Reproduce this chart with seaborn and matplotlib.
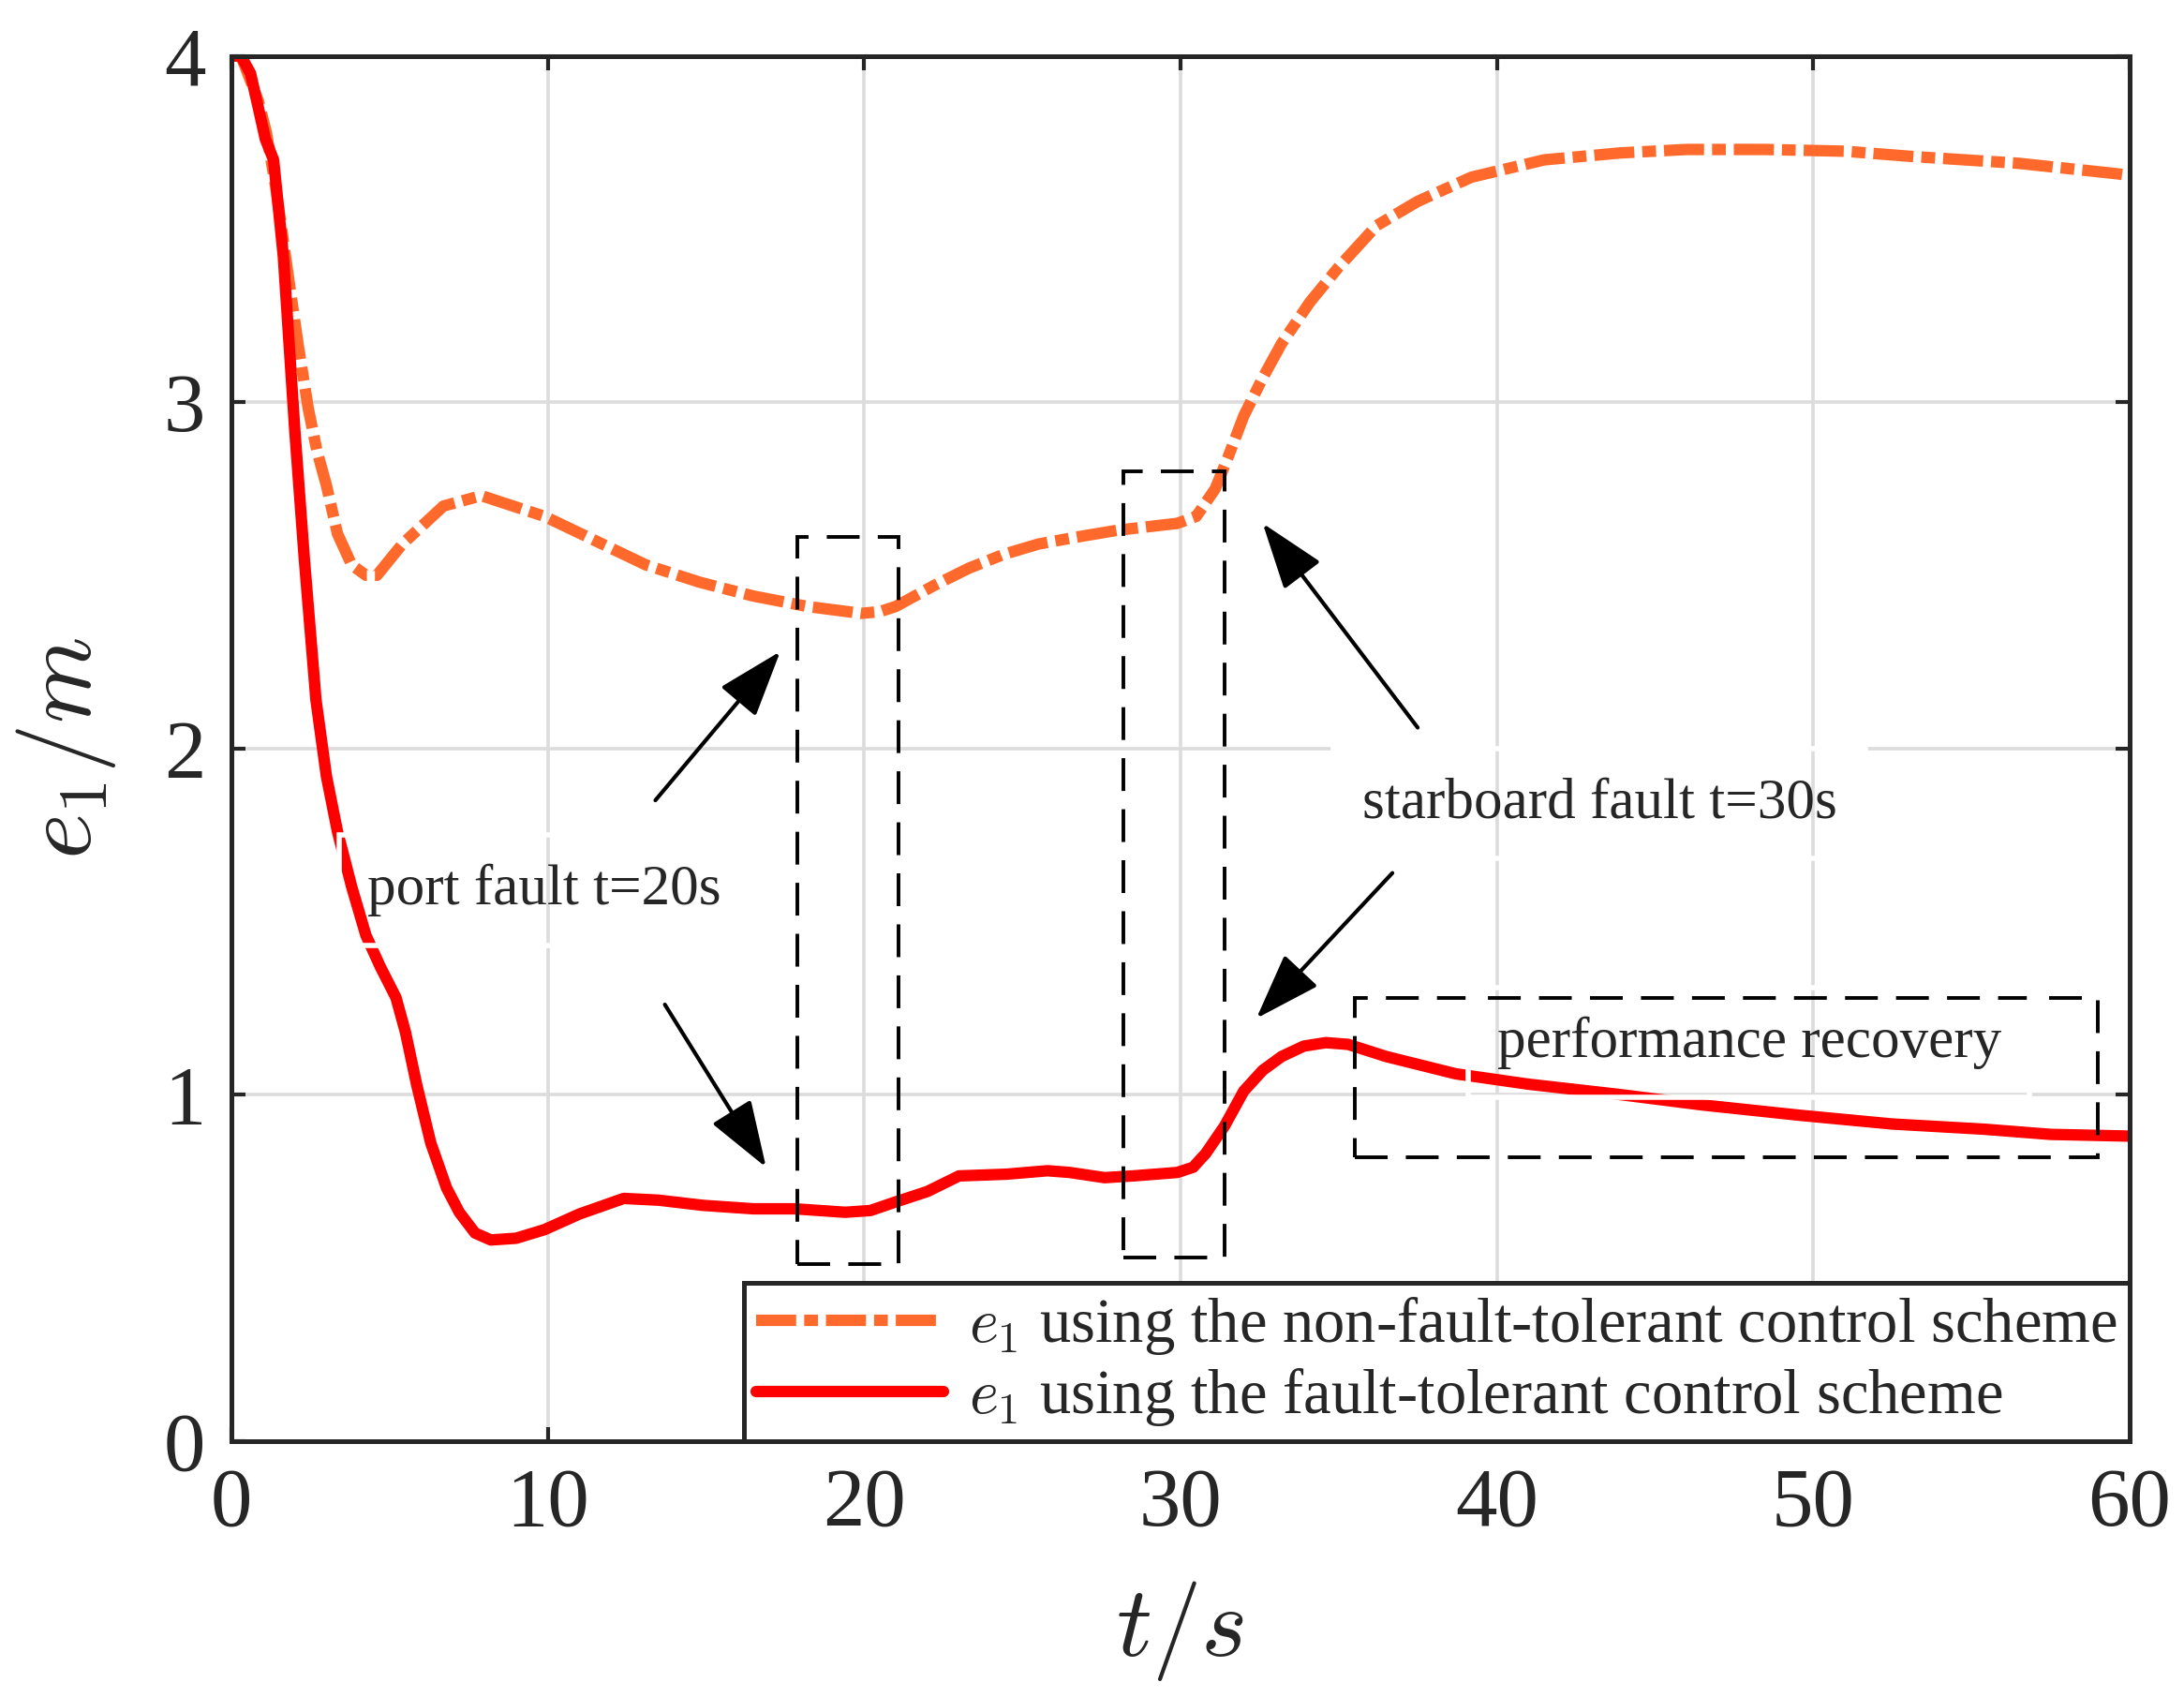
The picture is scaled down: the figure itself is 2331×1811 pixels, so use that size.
import pandas as pd
import seaborn as sns
import matplotlib.pyplot as plt
from matplotlib.patches import Rectangle

# e1 with the non-fault-tolerant scheme
t_nft = [0, 0.3, 0.85, 1.1, 1.4, 1.77, 2.1, 2.43, 2.7, 3.0, 3.35, 3.8, 4.25, 4.6,
         5.4, 6.7, 7.9, 9.9, 11.5, 13.1, 14.8, 16.5, 18.2, 19.9, 20.5, 21.0, 22.2,
         23.3, 24.4, 25.5, 26.7, 28.0, 29.9, 30.5, 31.1, 31.5, 32.0, 32.6, 33.2,
         34.1, 35.0, 36.2, 37.5, 39.2, 41.5, 43.9, 46.0, 48.5, 51.0, 53.1, 56.5,
         59.6, 60]
e_nft = [4.0, 4.0, 3.87, 3.78, 3.62, 3.38, 3.17, 2.98, 2.86, 2.76, 2.62, 2.53, 2.50, 2.50,
         2.59, 2.70, 2.73, 2.67, 2.60, 2.53, 2.48, 2.44, 2.41, 2.39, 2.395, 2.41, 2.47,
         2.52, 2.56, 2.59, 2.61, 2.63, 2.65, 2.67, 2.75, 2.84, 2.96, 3.07, 3.17,
         3.29, 3.39, 3.51, 3.58, 3.65, 3.70, 3.72, 3.73, 3.73, 3.725, 3.71, 3.69,
         3.66, 3.655]

# e1 with the fault-tolerant scheme
t_ft = [0, 0.3, 0.6, 0.85, 1.07, 1.33, 1.64, 2.0, 2.3, 2.67, 3.0, 3.35, 3.8, 4.25,
        4.7, 5.2, 5.5, 5.85, 6.3, 6.8, 7.2, 7.7, 8.2, 9.0, 9.9, 11.0, 12.4, 13.5,
        14.9, 16.5, 17.8, 19.4, 20.2, 21.0, 22.0, 23.0, 24.5, 25.8, 26.5, 27.6,
        28.5, 29.9, 30.4, 30.8, 31.4, 32.0, 32.6, 33.2, 33.9, 34.6, 35.3, 36.5,
        38.7, 41.0, 43.9, 46.5, 49.6, 52.5, 55.4, 57.5, 60]
e_ft = [4.0, 4.0, 3.95, 3.85, 3.76, 3.70, 3.42, 2.92, 2.55, 2.14, 1.92, 1.76, 1.60, 1.46,
        1.37, 1.28, 1.18, 1.03, 0.86, 0.73, 0.66, 0.60, 0.58, 0.585, 0.61, 0.655, 0.70, 0.695,
        0.68, 0.67, 0.67, 0.66, 0.665, 0.69, 0.72, 0.765, 0.77, 0.78, 0.775, 0.76,
        0.765, 0.775, 0.79, 0.83, 0.91, 1.01, 1.07, 1.11, 1.14, 1.15, 1.145, 1.11,
        1.06, 1.03, 1.00, 0.97, 0.94, 0.915, 0.90, 0.885, 0.88]

labels = [r'$e_1$ using the non-fault-tolerant control scheme',
          r'$e_1$ using the fault-tolerant control scheme']

# dashed boxes: (t0, e0, width, height)
boxes = [(17.9, 0.51, 3.2, 2.10), (28.2, 0.53, 3.2, 2.27), (35.5, 0.82, 23.5, 0.46)]
# arrows: (tail, head)
arrows = [((13.4, 1.85), (17.35, 2.28)), ((13.7, 1.26), (16.9, 0.79)),
          ((37.5, 2.06), (32.6, 2.65)), ((36.7, 1.64), (32.4, 1.22))]
notes = [(4.3, 1.59, 'port fault t=20s'), (35.75, 1.84, 'starboard fault t=30s'),
         (40.0, 1.15, 'performance recovery')]

sns.set_theme(style='ticks')
plt.rcParams['font.family'] = ['Liberation Serif', 'DejaVu Serif']
plt.rcParams['mathtext.fontset'] = 'cm'

fig = plt.figure(figsize=(11.655, 9.055), dpi=200)
ax = fig.add_axes([0.106, 0.151, 0.869, 0.816])

sns.lineplot(x=t_nft, y=e_nft, ax=ax, color='#ff6a2c', lw=4.4, label=labels[0])
sns.lineplot(x=t_ft, y=e_ft, ax=ax, color='#ff0000', lw=4.4, label=labels[1])
ax.lines[0].set_dashes((3.5, 0.7, 1.2, 0.7))

for (x0, y0, w, h) in boxes:
    ax.add_patch(Rectangle((x0, y0), w, h, fill=False, ec='black', lw=1.4,
                           ls=(0, (9, 5)), zorder=3))

for tail, head in arrows:
    ax.annotate('', xy=head, xytext=tail,
                arrowprops=dict(arrowstyle='-|>,head_length=1.3,head_width=0.45',
                                color='black', lw=1.5, mutation_scale=17,
                                shrinkA=0, shrinkB=0))

for x, y, s in notes:
    ax.text(x, y, s, fontsize=22, ha='left', va='center', zorder=4,
            bbox=dict(boxstyle='square,pad=0.5', fc='none', ec='white', lw=2))

ax.set_xlim(0, 60)
ax.set_ylim(0, 4)
ax.set_xticks(range(0, 61, 10))
ax.set_yticks(range(0, 5))
ax.grid(True, color='#dcdcdc', lw=1.3)
ax.set_axisbelow(True)
ax.tick_params(direction='in', length=5.5, width=1.5, top=True, right=True,
               labelsize=32, pad=10, colors='#262626')
for sp in ax.spines.values():
    sp.set_visible(True)
    sp.set_color('#262626')
    sp.set_linewidth(1.8)

ax.set_xlabel(r'$t/s$', fontsize=38, color='#262626')
ax.set_ylabel(r'$e_1/m$', fontsize=38, color='#262626')
ax.xaxis.set_label_coords(0.5, -0.1)
ax.yaxis.set_label_coords(-0.06, 0.5)

leg = ax.legend(loc='lower right', fontsize=24, frameon=True, fancybox=False,
                edgecolor='#262626', framealpha=1, handlelength=3.0,
                borderaxespad=0, borderpad=0.2, labelspacing=0.15, handletextpad=0.4)
leg.get_frame().set_linewidth(1.8)

plt.savefig('out.png', dpi=200)
